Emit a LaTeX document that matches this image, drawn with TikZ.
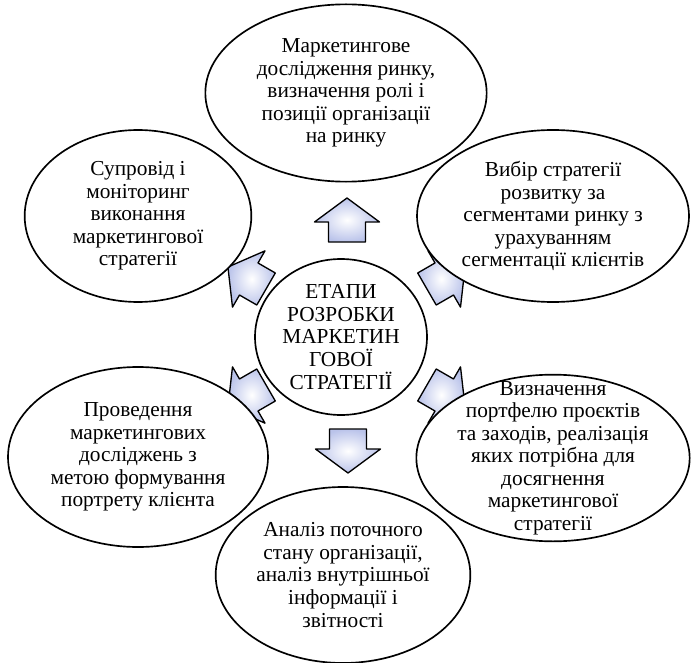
\documentclass[tikz,border=0pt]{standalone}
\usepackage{fontspec}
\setmainfont{Liberation Serif}
\usetikzlibrary{shapes.geometric}

\definecolor{arrowblue}{RGB}{186,195,234}

\tikzset{
  stage/.style={ellipse, draw, fill=white, line width=1.25pt, inner sep=0pt},
  stagetext/.style={align=center, inner sep=0pt, font=\fontsize{16}{16.9}\selectfont},
  stagearrow/.style={draw, line width=1pt, line join=round, shade, shading=radial,
    inner color=white, outer color=arrowblue}
}

\begin{document}
\begin{tikzpicture}[x=0.75pt, y=-0.75pt]
\useasboundingbox (0,0) rectangle (692,663);

% arrows first, the ellipses cover their ends
\draw[stagearrow, shift={(347,220)}, rotate=90]
  (-22,-18.5) -- (-2,-18.5) -- (-2,-32.5) -- (22,0) -- (-2,32.5) -- (-2,18.5) -- (-22,18.5) -- cycle;
\draw[stagearrow, shift={(446,278)}, rotate=30]
  (-22,-18.5) -- (-2,-18.5) -- (-2,-32.5) -- (22,0) -- (-2,32.5) -- (-2,18.5) -- (-22,18.5) -- cycle;
\draw[stagearrow, shift={(446,396)}, rotate=-30]
  (-22,-18.5) -- (-2,-18.5) -- (-2,-32.5) -- (22,0) -- (-2,32.5) -- (-2,18.5) -- (-22,18.5) -- cycle;
\draw[stagearrow, shift={(348,451)}, rotate=-90]
  (-22,-18.5) -- (-2,-18.5) -- (-2,-32.5) -- (22,0) -- (-2,32.5) -- (-2,18.5) -- (-22,18.5) -- cycle;
\draw[stagearrow, shift={(247,396)}, rotate=210]
  (-22,-18.5) -- (-2,-18.5) -- (-2,-32.5) -- (22,0) -- (-2,32.5) -- (-2,18.5) -- (-22,18.5) -- cycle;
\draw[stagearrow, shift={(247,278)}, rotate=150]
  (-22,-18.5) -- (-2,-18.5) -- (-2,-32.5) -- (22,0) -- (-2,32.5) -- (-2,18.5) -- (-22,18.5) -- cycle;

\node[stage, minimum width=129pt, minimum height=117pt,
  label={[stagetext]center:ЕТАПИ\\РОЗРОБКИ\\МАРКЕТИН\\ГОВОЇ\\СТРАТЕГІЇ}] (centre) at (341,337) {};

\node[stage, minimum width=211pt, minimum height=133pt,
  label={[stagetext]center:Маркетингове\\дослідження ринку,\\визначення ролі і\\позиції організації\\на ринку}] (market) at (346,93) {};
\node[stage, minimum width=204pt, minimum height=129pt,
  label={[stagetext]center:Вибір стратегії\\розвитку за\\сегментами ринку з\\урахуванням\\сегментації клієнтів}] (choice) at (553,216) {};
\node[stage, minimum width=205pt, minimum height=125pt,
  label={[stagetext]center:Визначення\\портфелю проєктів\\та заходів, реалізація\\яких потрібна для\\досягнення\\маркетингової\\стратегії}] (portfolio) at (553,458) {};
\node[stage, minimum width=191pt, minimum height=132pt,
  label={[stagetext]center:Аналіз поточного\\стану організації,\\аналіз внутрішньої\\інформації і\\звітності}] (analysis) at (343,575) {};
\node[stage, minimum width=195pt, minimum height=135pt,
  label={[stagetext]center:Проведення\\маркетингових\\досліджень з\\метою формування\\портрету клієнта}] (research) at (138,457) {};
\node[stage, minimum width=170pt, minimum height=129pt,
  label={[stagetext]center:Супровід і\\моніторинг\\виконання\\маркетингової\\стратегії}] (monitor) at (138,216) {};
\end{tikzpicture}
\end{document}
